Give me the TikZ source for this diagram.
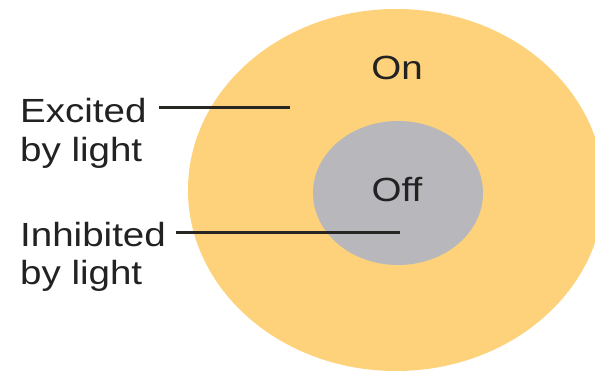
\documentclass[tikz,border=0pt]{standalone}
\usepackage{fontspec}
\setmainfont{Liberation Sans}[FakeStretch=1.15]
\definecolor{onyellow}{RGB}{253,210,122}
\definecolor{offgray}{RGB}{184,184,188}
\definecolor{txt}{RGB}{34,34,34}
\definecolor{leader}{RGB}{40,38,34}
\begin{document}
\begin{tikzpicture}[x=1pt,y=-1pt,
  lbl/.style={inner sep=0pt,anchor=base west,text=txt,font=\fontsize{33.5}{38}\selectfont},
  ctr/.style={inner sep=0pt,anchor=base,text=txt,font=\fontsize{33.5}{38}\selectfont},
  leadline/.style={draw=leader,line width=3pt}]
\useasboundingbox (0,0) rectangle (595,371);
\fill[white] (0,0) rectangle (595,371);
\begin{scope}
\clip (0,0) rectangle (595,371);
\fill[onyellow] (396,190) ellipse (208 and 181);
\end{scope}
\fill[offgray] (398,193) ellipse (85 and 72);
\node[ctr] (on) at (397,80) {On};
\node[ctr] (off) at (397,202) {Off};
\node[lbl] (exc1) at (20,123) {Excited};
\node[lbl] (exc2) at (20,162) {by light};
\node[lbl] (inh1) at (20,247) {Inhibited};
\node[lbl] (inh2) at (20,285) {by light};
\coordinate (eend) at (290,108);
\coordinate (iend) at (400,233);
\draw[leadline] ([xshift=12pt]exc1.east |- eend) -- (eend);
\draw[leadline] ([xshift=10pt]inh1.east |- iend) -- (iend);
\end{tikzpicture}
\end{document}
